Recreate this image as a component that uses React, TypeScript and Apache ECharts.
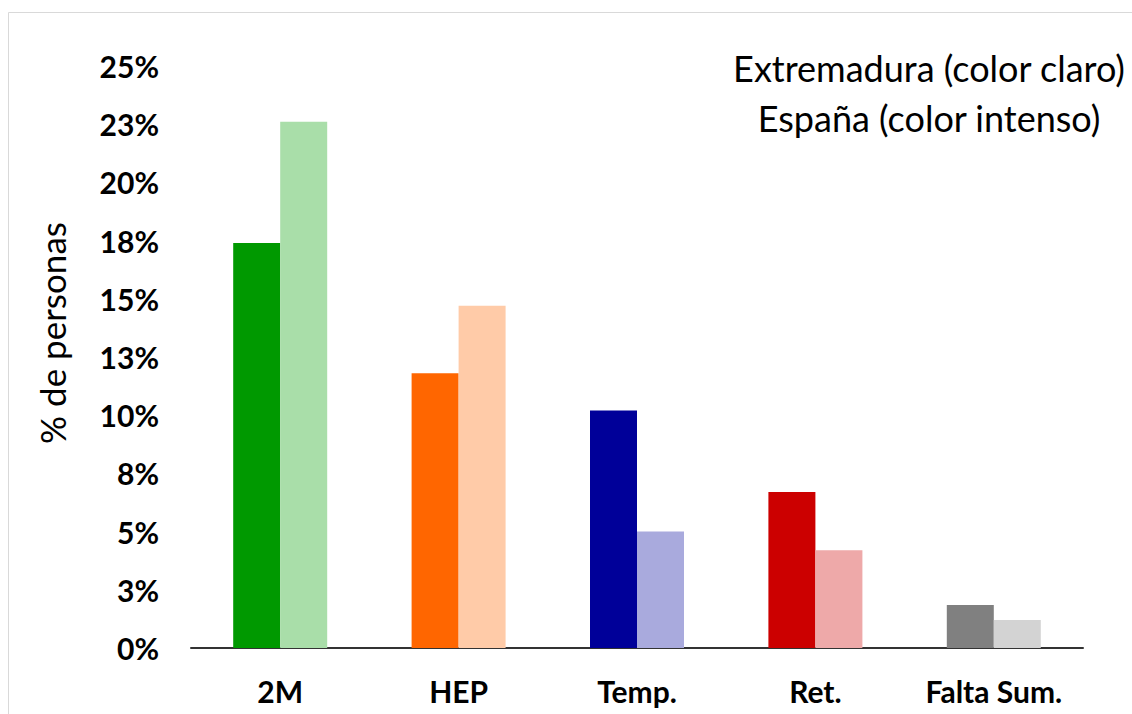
import React, { useEffect, useRef } from "react";
import * as echarts from "echarts";

const categories = ["2M", "HEP", "Temp.", "Ret.", "Falta Sum."];
const espanaValues = [17.4, 11.8, 10.2, 6.7, 1.85];
const extremaduraValues = [22.6, 14.7, 5.0, 4.2, 1.2];
const darkColors = ["#009900", "#FF6600", "#000099", "#CC0000", "#808080"];
const lightColors = ["#A9DEA9", "#FFCBA8", "#A9AADD", "#EEA9A9", "#D3D3D3"];
const legendLines = ["Extremadura (color claro)", "España (color intenso)"];
const yAxisTitle = "% de personas";

const FONT = "Lato, 'Open Sans', sans-serif";

export default function App() {
  const ref = useRef<HTMLDivElement>(null);
  useEffect(() => {
    if (!ref.current) return;
    const chart = echarts.init(ref.current, undefined, { renderer: "svg" });
    chart.setOption({
      animation: false,
      backgroundColor: "#ffffff",
      grid: { left: 191, right: 49, top: 66, bottom: 66, containLabel: false },
      xAxis: {
        type: "category",
        data: categories,
        axisLine: { show: true, lineStyle: { color: "#333333", width: 2 } },
        axisTick: { show: false },
        axisLabel: {
          color: "#000",
          fontFamily: FONT,
          fontWeight: "bold",
          fontSize: 30,
          margin: 28,
          interval: 0,
          hideOverlap: false,
        },
      },
      yAxis: {
        type: "value",
        min: 0,
        max: 25,
        interval: 2.5,
        splitLine: { show: false },
        axisLine: { show: false },
        axisTick: { show: false },
        axisLabel: {
          color: "#000",
          fontFamily: FONT,
          fontWeight: "bold",
          fontSize: 30,
          margin: 32,
          formatter: (v: number) => Math.round(v) + "%",
        },
      },
      series: [
        {
          name: "España",
          type: "bar",
          barWidth: 47,
          barGap: "0%",
          data: espanaValues.map((v, i) => ({
            value: v,
            itemStyle: { color: darkColors[i] },
          })),
        },
        {
          name: "Extremadura",
          type: "bar",
          barWidth: 47,
          barGap: "0%",
          data: extremaduraValues.map((v, i) => ({
            value: v,
            itemStyle: { color: lightColors[i] },
          })),
        },
      ],
      graphic: [
        {
          type: "rect",
          shape: { x: 8.5, y: 12.5, width: 1200, height: 800 },
          style: { fill: "none", stroke: "#d9d9d9", lineWidth: 1 },
          silent: true,
          z: -10,
        },
        {
          type: "text",
          x: 52,
          y: 333,
          rotation: Math.PI / 2,
          style: {
            text: yAxisTitle,
            fontFamily: FONT,
            fontSize: 35,
            fill: "#000",
            textAlign: "center",
            textVerticalAlign: "middle",
          },
        },
        {
          type: "text",
          x: 929,
          y: 68,
          style: {
            text: legendLines[0],
            fontFamily: FONT,
            fontSize: 36,
            fill: "#000",
            textAlign: "center",
            textVerticalAlign: "middle",
          },
        },
        {
          type: "text",
          x: 929,
          y: 118,
          style: {
            text: legendLines[1],
            fontFamily: FONT,
            fontSize: 36,
            fill: "#000",
            textAlign: "center",
            textVerticalAlign: "middle",
          },
        },
      ],
    });
    return () => chart.dispose();
  }, []);
  return (
    <div
      ref={ref}
      style={{ position: "fixed", left: 0, top: 0, width: 1132, height: 714 }}
    />
  );
}
